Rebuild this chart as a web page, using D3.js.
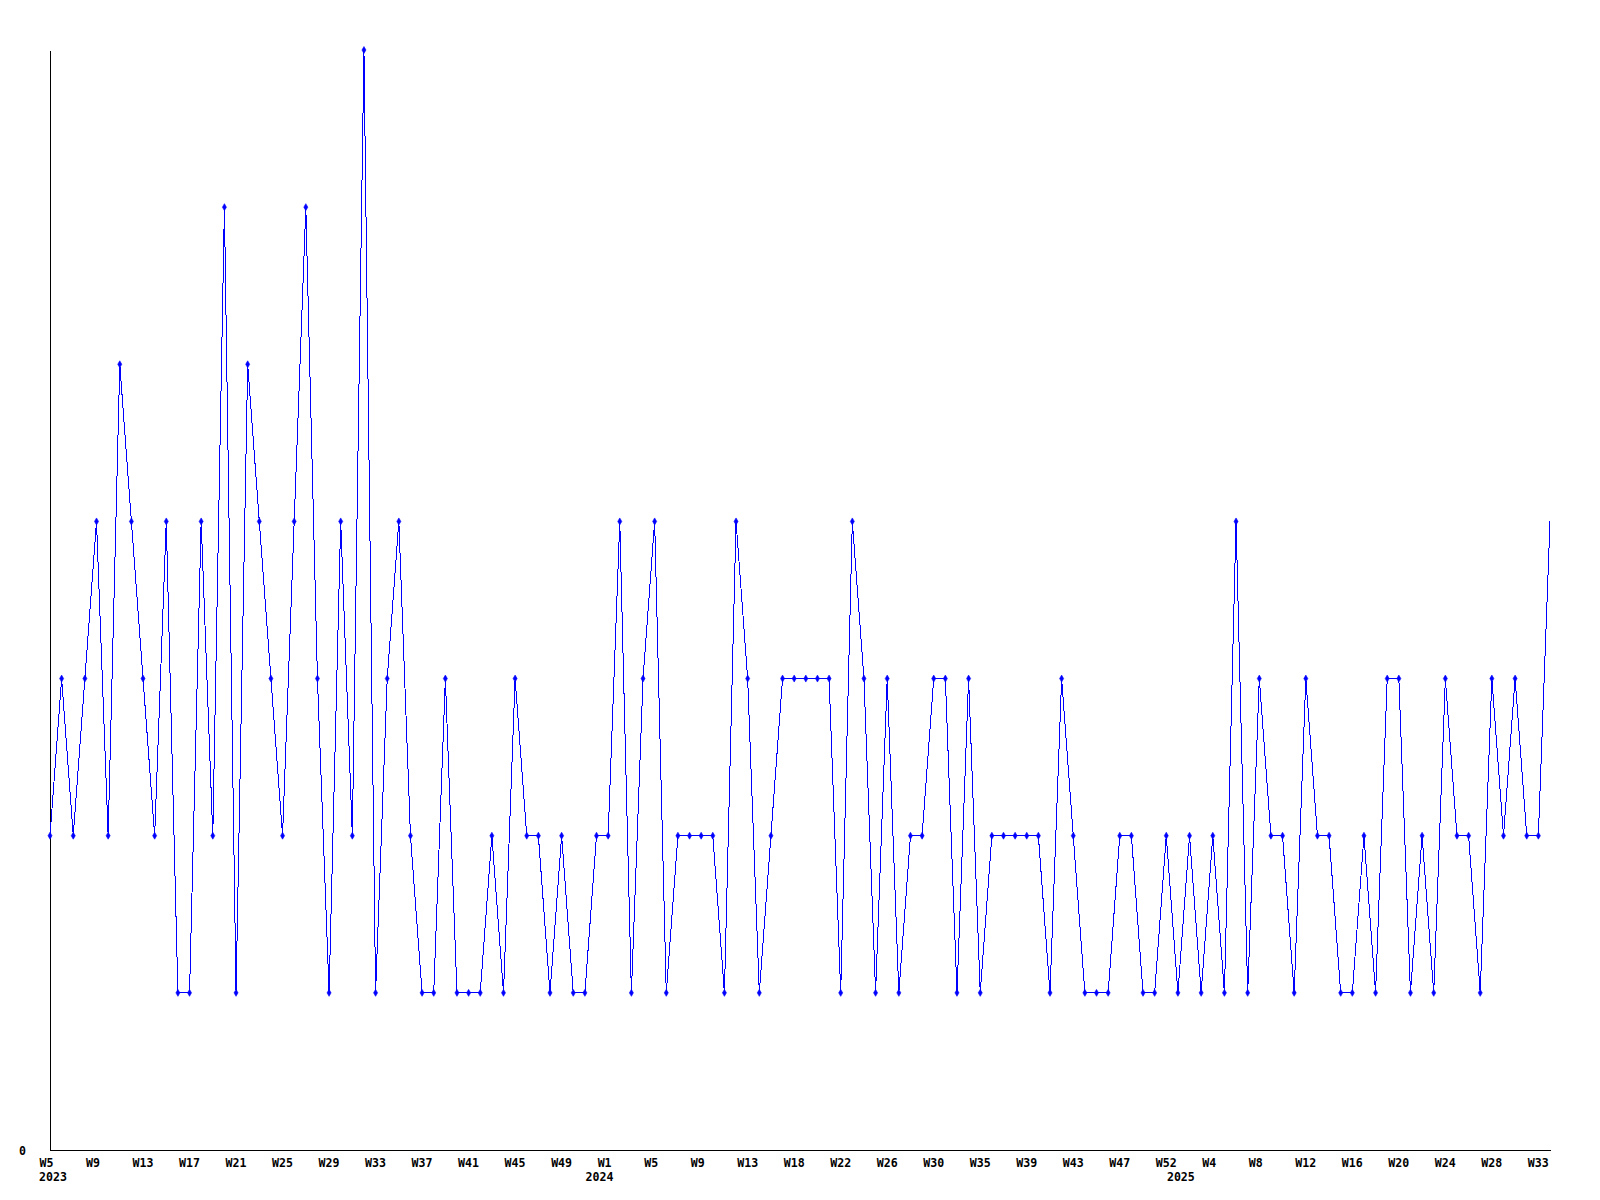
<!DOCTYPE html>
<html>
<head>
<meta charset="utf-8">
<script src="https://cdn.jsdelivr.net/npm/d3@7"></script>
<style>
  html, body { margin: 0; padding: 0; background: #fff; }
  svg { display: block; }
  .lbl { font-family: "DejaVu Sans Mono", "Liberation Mono", monospace; font-weight: bold; font-size: 11.6px; fill: #000; }
</style>
</head>
<body>
<svg id="chart" width="1600" height="1200"></svg>
<script>
// Weekly counts, 2023 W5 .. 2025 W34 (weeks without data are absent)
const values = [
  2,3,2,3,4,2,5,4,3,2,4,1,1,4,2,6,1,5,4,3,2,4,6,3,1,4,2,7,1,3,4,2,1,
  1,3,1,1,1,2,1,3,2,2,1,2,1,1,2,2,4,1,3,4,1,2,2,2,2,1,4,3,1,2,3,3,3,
  3,3,1,4,3,1,3,1,2,2,3,3,1,3,1,2,2,2,2,2,1,3,2,1,1,1,2,2,1,1,2,1,
  2,1,2,1,4,1,3,2,2,1,3,2,2,1,1,2,1,3,3,1,2,1,3,2,2,1,3,2,3,2,2,4
];
// Tick labels, one every 4th point
const tickLabels = [
  "W5","W9","W13","W17","W21","W25","W29","W33","W37","W41","W45","W49",
  "W1","W5","W9","W13","W18","W22","W26","W30","W35","W39","W43","W47","W52",
  "W4","W8","W12","W16","W20","W24","W28","W33"
];
const tickEvery = 4;
// Year labels and the point where each year starts
const yearLabels = ["2023", "2024", "2025"];
const yearStartIdx = [0, 47, 97];
const yTicks = [0];
const yMax = 7;

const svg = d3.select("#chart");
svg.append("rect").attr("width", 1600).attr("height", 1200).attr("fill", "#fff");

const x = d3.scaleLinear().domain([0, values.length - 1]).range([50, 1550]);
const y = d3.scaleLinear().domain([0, yMax]).range([1150, 50]);

// Y axis
const yAxis = d3.axisLeft(y).tickValues(yTicks).tickSize(0).tickPadding(24).tickFormat(d3.format("d"));
const gy = svg.append("g").attr("transform", "translate(50,0)").call(yAxis);
gy.select(".domain").attr("stroke", "#000").attr("shape-rendering", "crispEdges");
gy.selectAll("text").attr("class", "lbl").attr("font-family", null).attr("font-size", null).attr("dy", "0.36em");

// X axis
const tickIdx = tickLabels.map((_, i) => i * tickEvery);
const xAxis = d3.axisBottom(x).tickValues(tickIdx).tickSize(0)
  .tickFormat((d, i) => tickLabels[i]);
const gx = svg.append("g").attr("transform", "translate(0,1150)").call(xAxis);
gx.select(".domain").attr("stroke", "#000").attr("shape-rendering", "crispEdges");
gx.selectAll("text").attr("class", "lbl").attr("font-family", null).attr("font-size", null)
  .attr("text-anchor", "start").attr("x", -11).attr("y", 16.5).attr("dy", null);

// Year labels
svg.append("g").selectAll("text").data(yearLabels).join("text")
  .attr("class", "lbl")
  .attr("x", (d, i) => x(yearStartIdx[i]) - 11)
  .attr("y", 1180.5)
  .text(d => d);

// Line
const line = d3.line().x((d, i) => x(i)).y(d => y(d));
svg.append("path").datum(values)
  .attr("d", line)
  .attr("fill", "none")
  .attr("stroke", "#0000ff")
  .attr("stroke-width", 1)
  .attr("shape-rendering", "crispEdges");

// Markers (small diamonds), last point has none
const diamond = d3.symbol().type(d3.symbolDiamond).size(14);
svg.append("g").selectAll("path").data(values.slice(0, -1)).join("path")
  .attr("d", diamond)
  .attr("transform", (d, i) => `translate(${x(i)},${y(d)})`)
  .attr("fill", "#0000ff")
  .attr("stroke", "#0000ff")
  .attr("stroke-width", 0.6);
</script>
</body>
</html>
